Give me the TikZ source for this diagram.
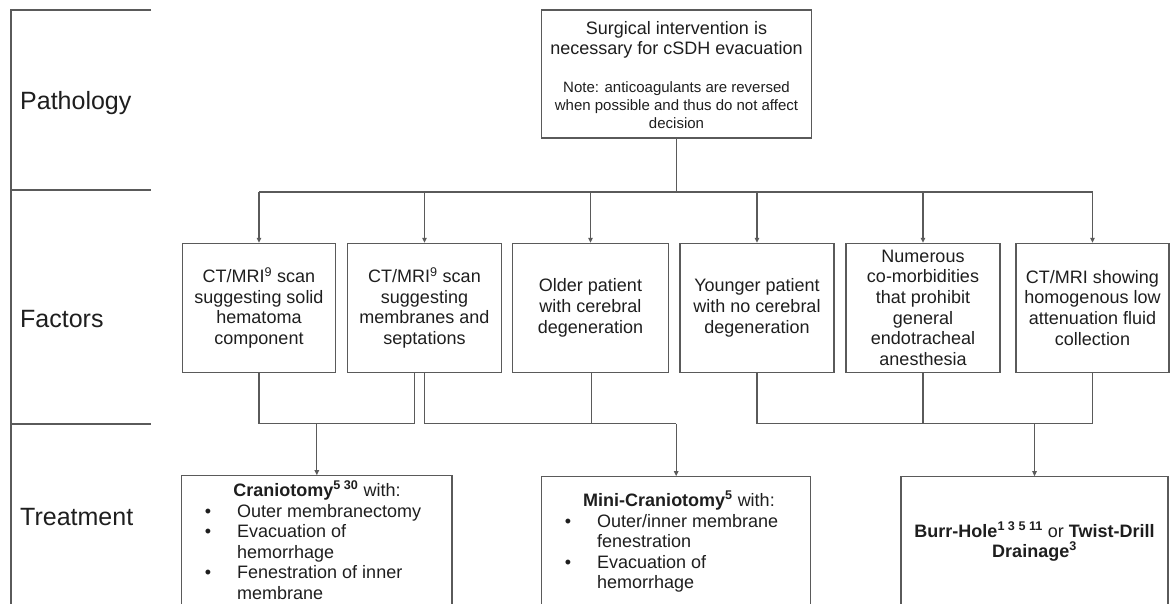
\documentclass[tikz,border=0pt]{standalone}
\usepackage{fontspec}
\setmainfont{Liberation Sans}
\usetikzlibrary{arrows.meta}
\definecolor{linegray}{HTML}{5A5A5A}
\definecolor{txt}{HTML}{1E1E1E}
\begin{document}
\begin{tikzpicture}[x=1pt,y=-1pt,
  line/.style={draw=linegray, line width=1.1pt},
  arr/.style={line, -{Triangle[length=5pt,width=4.5pt]}},
  fbox/.style={draw=linegray, line width=1.1pt, inner sep=0pt, align=center, text=txt,
    font=\fontsize{18}{20.7}\selectfont, minimum height=128.7pt},
  tbox/.style={draw=linegray, line width=1.1pt, inner sep=0pt, minimum height=144pt},
  tt/.style={inner sep=0pt, text=txt, font=\fontsize{18}{20.7}\selectfont},
  nt/.style={inner sep=0pt, text=txt, font=\fontsize{15}{18}\selectfont},
  lab/.style={inner sep=0pt, text=txt, font=\fontsize{25}{30}\selectfont, anchor=base west}
]
\useasboundingbox (0,0) rectangle (1170,604);
\clip (0,0) rectangle (1170,604);

% row frame
\coordinate (fr0) at (11,10);
\coordinate (fr1) at (11,190);
\coordinate (fr2) at (11,424);
\coordinate (fr3) at (11,610);
\draw[line] (151,10) -- (fr0) -- (fr3);
\draw[line] (fr1) -- (151,190);
\draw[line] (fr2) -- (151,424);

\node[lab] (lpath) at (20,110) {Pathology};
\node[lab] (lfact) at (20,327) {Factors};
\node[lab] (ltreat) at (20,525) {Treatment};

% top box
\node[draw=linegray, line width=1.1pt, inner sep=0pt, minimum width=269.7pt, minimum height=128pt] (top) at (676.5,74) {};
\node[tt, anchor=base] (t1) at (676.5,35) {Surgical intervention is};
\node[tt, anchor=base] (t2) at (676.5,55) {necessary for cSDH evacuation};
\node[nt, anchor=base] (n1) at (676.5,93) {Note: anticoagulants are reversed};
\node[nt, anchor=base] (n2) at (676.5,111) {when possible and thus do not affect};
\node[nt, anchor=base] (n3) at (676.5,128.5) {decision};

% factor boxes
\node[fbox, minimum width=153pt] (f1) at (259,307.7) {CT/MRI\textsuperscript{9} scan\\suggesting solid\\hematoma\\component};
\node[fbox, minimum width=154pt] (f2) at (424.5,307.7) {CT/MRI\textsuperscript{9} scan\\suggesting\\membranes and\\septations};
\node[fbox, minimum width=156pt] (f3) at (590.5,307.7) {Older patient\\with cerebral\\degeneration};
\node[fbox, minimum width=154pt] (f4) at (757,307.7) {Younger patient\\with no cerebral\\degeneration};
\node[fbox, minimum width=154pt] (f5) at (923,307.7) {Numerous\\co-morbidities\\that prohibit\\general\\endotracheal\\anesthesia};
\node[fbox, minimum width=153pt] (f6) at (1092.5,307.7) {CT/MRI showing\\homogenous low\\attenuation fluid\\collection};

% treatment boxes
\node[tbox, minimum width=270.3pt] (cranio) at (316.85,547.7) {};
\node[tbox, minimum width=269pt] (mini) at (676.2,548.7) {};
\node[tbox, minimum width=267pt] (burr) at (1034.5,548.7) {};

% connectors top
\coordinate (bus) at (676,192);
\coordinate (low) at (676,423.5);
\draw[line] (top.south) -- (top.south |- bus);
\draw[line] (f1.north |- bus) -- (f6.north |- bus);
\foreach \f in {f1,f2,f3,f4,f5,f6}{
  \draw[arr] (\f.north |- bus) -- (\f.north);
}

% connectors bottom
\draw[line] (f1.south) -- (f1.south |- low) -| ([xshift=-10pt]f2.south);
\draw[arr] (cranio.north |- low) -- (cranio.north);
\draw[line] (f2.south) -- (f2.south |- low) -- (mini.north |- low);
\draw[line] ([xshift=1pt]f3.south) -- ([xshift=1pt]f3.south |- low);
\draw[arr] (mini.north |- low) -- (mini.north);
\draw[line] (f4.south) -- (f4.south |- low) -- (f6.south |- low) -- (f6.south);
\draw[line] (f5.south) -- (f5.south |- low);
\draw[arr] (burr.north |- low) -- (burr.north);

% craniotomy text
\node[tt, anchor=base] (ch) at (317,496) {\textbf{Craniotomy\textsuperscript{5 30}} with:};
\node[tt, anchor=base] (cb1) at (208,517) {•};
\node[tt, anchor=base west] (ct1) at (237,517) {Outer membranectomy};
\node[tt, anchor=base] (cb2) at (208,537.5) {•};
\node[tt, anchor=base west] (ct2) at (237,537.5) {Evacuation of};
\node[tt, anchor=base west] (ct3) at (237,558) {hemorrhage};
\node[tt, anchor=base] (cb4) at (208,578.5) {•};
\node[tt, anchor=base west] (ct4) at (237,578.5) {Fenestration of inner};
\node[tt, anchor=base west] (ct5) at (237,599) {membrane};

% mini-craniotomy text
\node[tt, anchor=base] (mh) at (679,506) {\textbf{Mini-Craniotomy\textsuperscript{5}} with:};
\node[tt, anchor=base] (mb1) at (568,527) {•};
\node[tt, anchor=base west] (mt1) at (597,527) {Outer/inner membrane};
\node[tt, anchor=base west] (mt2) at (597,547.5) {fenestration};
\node[tt, anchor=base] (mb3) at (568,568) {•};
\node[tt, anchor=base west] (mt3) at (597,568) {Evacuation of};
\node[tt, anchor=base west] (mt4) at (597,588.5) {hemorrhage};

% burr-hole text
\node[tt, anchor=base] (bh1) at (1034.5,537) {\textbf{Burr-Hole\textsuperscript{1 3 5 11}} or \textbf{Twist-Drill}};
\node[tt, anchor=base] (bh2) at (1034.5,557) {\textbf{Drainage\textsuperscript{3}}};
\end{tikzpicture}
\end{document}
